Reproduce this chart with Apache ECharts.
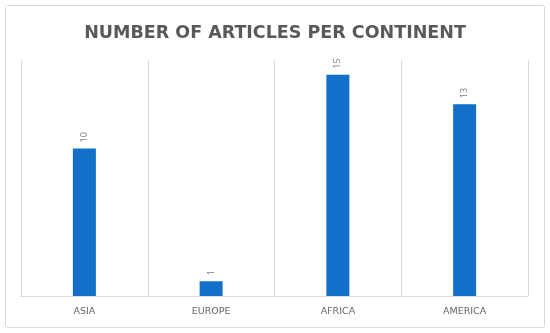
<!DOCTYPE html>
<html><head><meta charset="utf-8">
<script src="https://cdn.jsdelivr.net/npm/echarts@6/dist/echarts.min.js"></script>
<style>html,body{margin:0;padding:0;background:#fff}#c{width:550px;height:333px}</style>
</head><body><div id="c"></div>
<script>
const categories = ['ASIA', 'EUROPE', 'AFRICA', 'AMERICA'];
const articles = [10, 1, 15, 13];
const titleText = 'NUMBER OF ARTICLES PER CONTINENT';

const chart = echarts.init(document.getElementById('c'));
chart.setOption({
  animation: false,
  graphic: [{
    type: 'rect', shape: {x: 5.5, y: 5.5, width: 539, height: 322, r: 2},
    style: {fill: 'none', stroke: '#d9d9d9', lineWidth: 1}, silent: true, z: -1
  }],
  title: {
    text: titleText, left: 'center', top: 19,
    textStyle: {fontFamily: 'DejaVu Sans', fontWeight: 'bold', fontSize: 17.5, color: '#595959'}
  },
  grid: {left: 21, right: 22, top: 60, bottom: 37},
  xAxis: {
    type: 'category', data: categories,
    axisLine: {show: true, lineStyle: {color: '#d9d9d9'}},
    axisTick: {show: false},
    splitLine: {show: true, interval: 0, lineStyle: {color: '#d9d9d9'}},
    axisLabel: {fontFamily: 'DejaVu Sans', fontSize: 9.5, color: '#666666', margin: 11}
  },
  yAxis: {type: 'value', min: 0, max: 16, show: false, splitLine: {show: false}},
  series: [{
    type: 'bar', data: articles, barWidth: 23,
    itemStyle: {color: '#1270c8'},
    label: {show: true, position: 'top', rotate: 90, align: 'left', verticalAlign: 'middle',
      distance: 6, fontFamily: 'Open Sans', fontSize: 9, color: '#7f7f7f'}
  }]
});
</script></body></html>
